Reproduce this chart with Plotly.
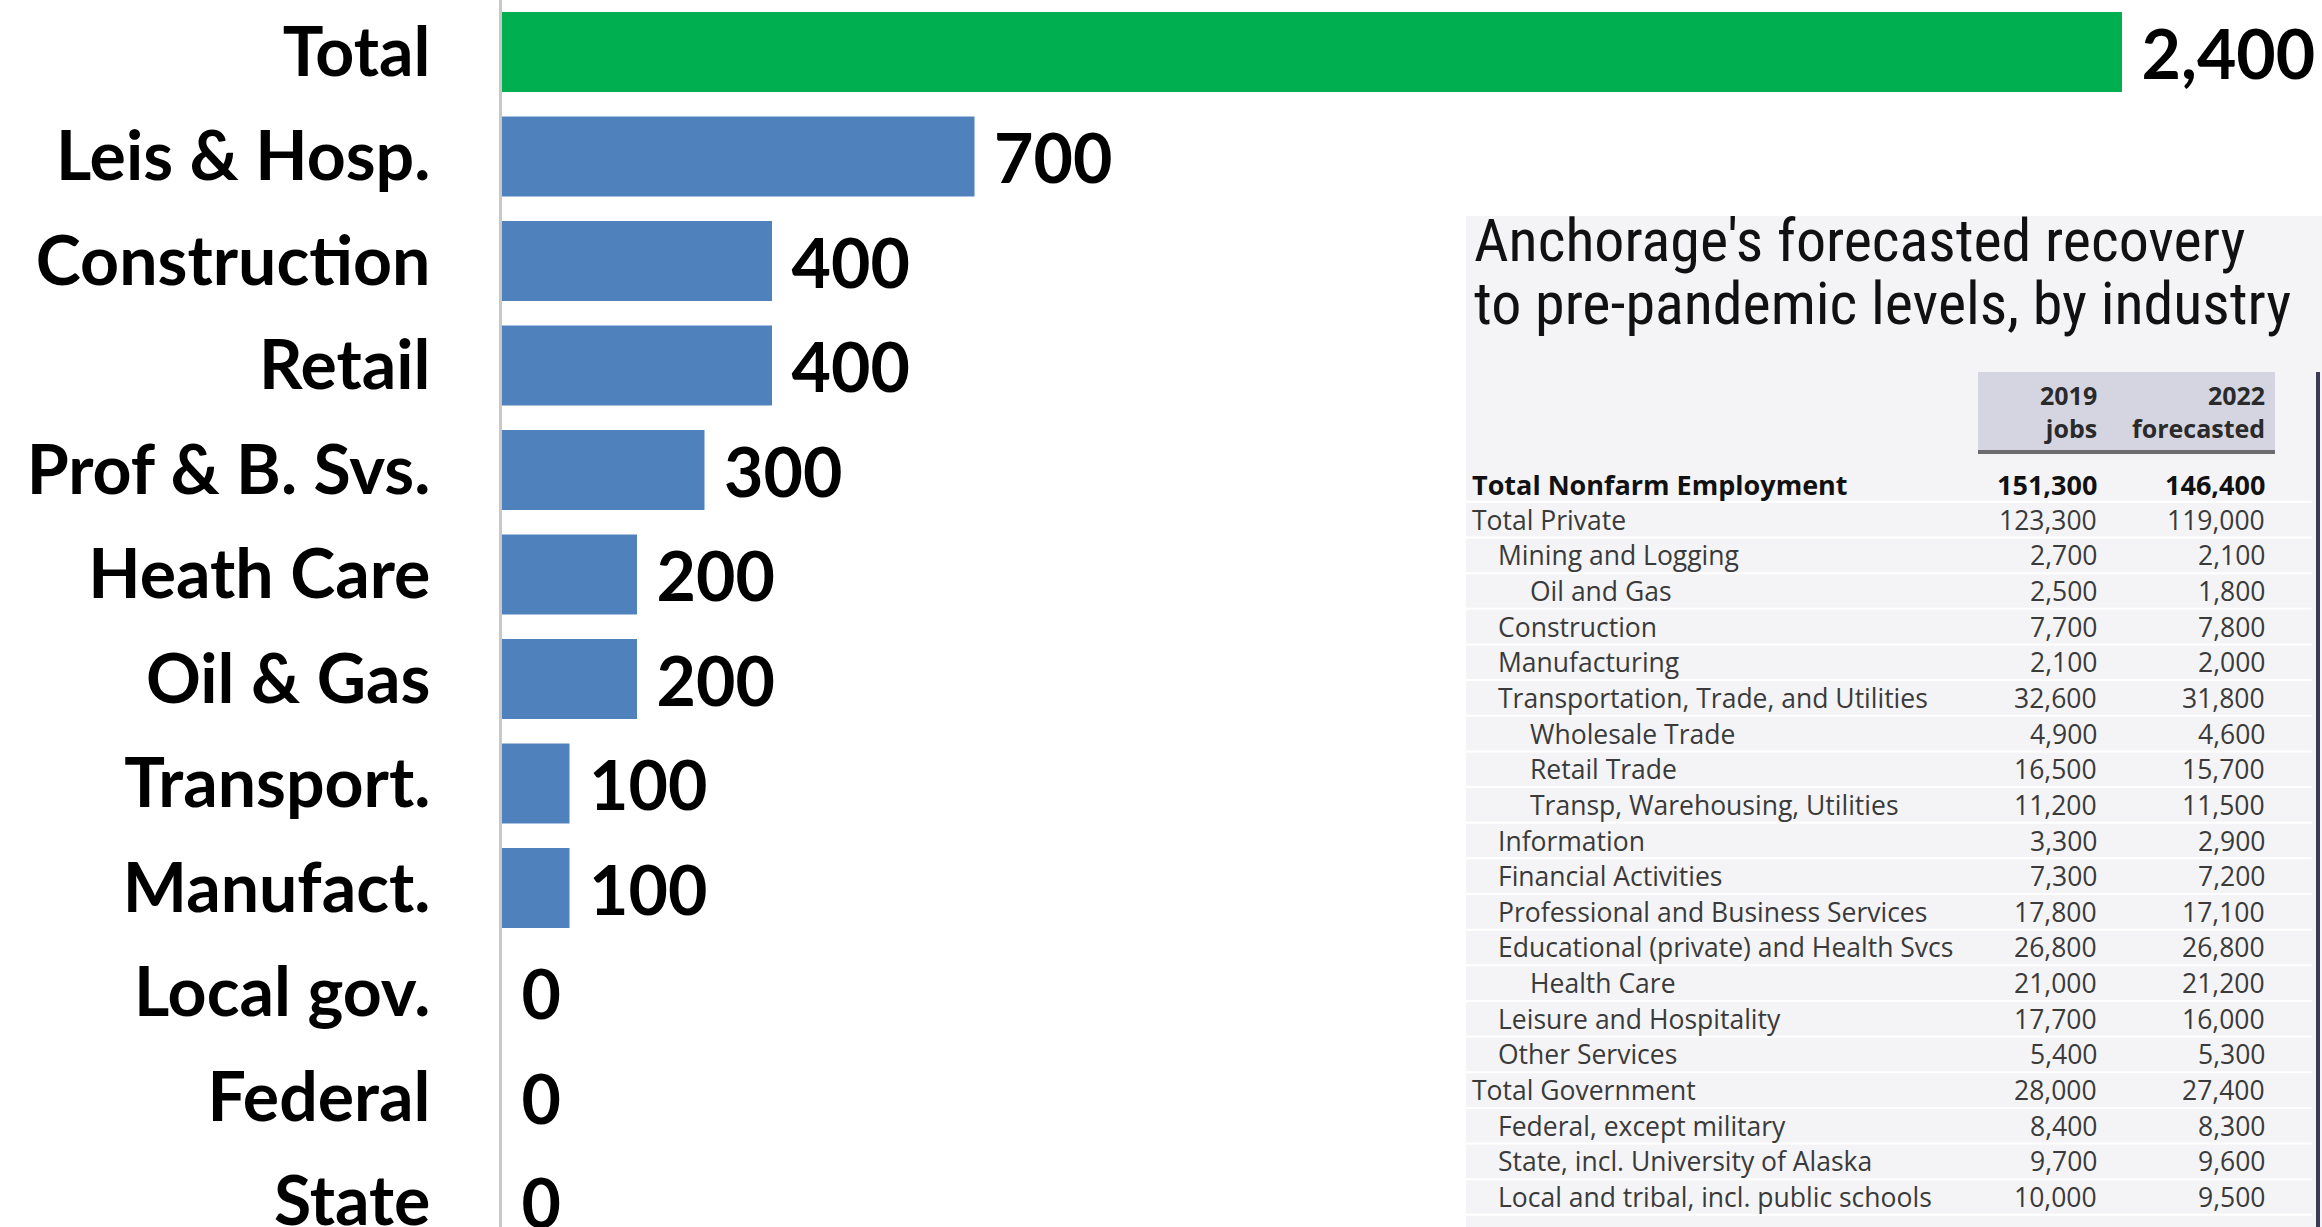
import plotly.graph_objects as go

# bar chart data
industries = ["Total", "Leis & Hosp.", "Construction", "Retail", "Prof & B. Svs.",
              "Heath Care", "Oil & Gas", "Transport.", "Manufact.",
              "Local gov.", "Federal", "State"]
jobs_gap = [2400, 700, 400, 400, 300, 200, 200, 100, 100, 0, 0, 0]
bar_colors = ["#00b050"] + ["#4f81bd"] * 11

# inset table data
title_lines = ["Anchorage's forecasted recovery", "to pre-pandemic levels, by industry"]
table_headers = ["2019<br>jobs", "2022<br>forecasted"]
row_names = ["Total Nonfarm Employment", "Total Private", "Mining and Logging", "Oil and Gas",
             "Construction", "Manufacturing", "Transportation, Trade, and Utilities",
             "Wholesale Trade", "Retail Trade", "Transp, Warehousing, Utilities",
             "Information", "Financial Activities", "Professional and Business Services",
             "Educational (private) and Health Svcs", "Health Care", "Leisure and Hospitality",
             "Other Services", "Total Government", "Federal, except military",
             "State, incl. University of Alaska", "Local and tribal, incl. public schools"]
row_levels = [0, 0, 1, 2, 1, 1, 1, 2, 2, 2, 1, 1, 1, 1, 2, 1, 1, 0, 1, 1, 1]
jobs_2019 = ["151,300", "123,300", "2,700", "2,500", "7,700", "2,100", "32,600", "4,900",
             "16,500", "11,200", "3,300", "7,300", "17,800", "26,800", "21,000", "17,700",
             "5,400", "28,000", "8,400", "9,700", "10,000"]
jobs_2022 = ["146,400", "119,000", "2,100", "1,800", "7,800", "2,000", "31,800", "4,600",
             "15,700", "11,500", "2,900", "7,200", "17,100", "26,800", "21,200", "16,000",
             "5,300", "27,400", "8,300", "9,600", "9,500"]

W, H = 2322, 1227
L = 502


def px(x):
    return (x - L) / (W - L)


def py(y):
    return 1 - y / H


fig = go.Figure(go.Bar(
    x=jobs_gap, y=industries, orientation="h",
    marker=dict(color=bar_colors, line=dict(width=0)),
    text=[" " + f"{v:,}" for v in jobs_gap],
    textposition="outside", cliponaxis=False, constraintext="none",
    textfont=dict(family="Lato", size=68, color="black", weight="bold"),
))

shapes = []
annotations = []

# inset background
shapes.append(dict(type="rect", xref="paper", yref="paper", x0=px(1466), x1=px(W),
                   y0=py(H), y1=py(216), fillcolor="#f4f4f6", line=dict(width=0), layer="above"))
row_h = 35.65
row0 = 484
for i in range(len(row_names)):
    yb = row0 + i * row_h + row_h / 2
    shapes.append(dict(type="line", xref="paper", yref="paper", x0=px(1466), x1=px(2312),
                       y0=py(yb), y1=py(yb), line=dict(color="white", width=2), layer="above"))
# header box
shapes.append(dict(type="rect", xref="paper", yref="paper", x0=px(1978), x1=px(2275),
                   y0=py(450), y1=py(372), fillcolor="#d5d5e1", line=dict(width=0), layer="above"))
shapes.append(dict(type="line", xref="paper", yref="paper", x0=px(1978), x1=px(2275),
                   y0=py(452), y1=py(452), line=dict(color="#6b6b70", width=4), layer="above"))
# right edge line
shapes.append(dict(type="line", xref="paper", yref="paper", x0=px(2318), x1=px(2318),
                   y0=py(372), y1=py(H), line=dict(color="#3b3b55", width=4), layer="above"))

for k, line in enumerate(title_lines):
    annotations.append(dict(text=line, xref="paper", yref="paper", x=px(1472), y=py(278 + k * 63),
                            xanchor="left", yanchor="bottom", showarrow=False,
                            font=dict(family="Roboto Condensed, Liberation Sans Narrow, Roboto",
                                      size=60, color="#111111")))
for hx, txt in zip([2099, 2267], table_headers):
    annotations.append(dict(text=txt, xref="paper", yref="paper", x=px(hx), y=py(411),
                            xanchor="right", yanchor="middle", align="right", showarrow=False,
                            font=dict(family="Open Sans", size=25, color="#2a2a2a", weight="bold")))

indent = [1470, 1496, 1528]
for i, (name, lvl, a, b) in enumerate(zip(row_names, row_levels, jobs_2019, jobs_2022)):
    yc = py(row0 + i * row_h)
    bold = i == 0
    f = dict(family="Open Sans", size=27 if bold else 26.5,
             color="#111111" if bold else "#3a3a3a", weight="bold" if bold else "normal")
    annotations.append(dict(text=name, xref="paper", yref="paper", x=px(indent[lvl]), y=yc,
                            xanchor="left", yanchor="middle", showarrow=False, font=f))
    annotations.append(dict(text=a, xref="paper", yref="paper", x=px(2099), y=yc,
                            xanchor="right", yanchor="middle", showarrow=False, font=f))
    annotations.append(dict(text=b, xref="paper", yref="paper", x=px(2267), y=yc,
                            xanchor="right", yanchor="middle", showarrow=False, font=f))

bar_step = 104.5
top = -52 / bar_step
fig.update_layout(
    width=W, height=H,
    margin=dict(l=L, r=0, t=0, b=0, pad=0, autoexpand=False),
    paper_bgcolor="white", plot_bgcolor="white",
    showlegend=False,
    bargap=0.235,
    xaxis=dict(range=[0, (W - L) / 0.675], side="top", showline=True, linecolor="#a6a6a6",
               linewidth=2, showgrid=False, zeroline=False, showticklabels=False, ticks="",
               automargin=False),
    yaxis=dict(categoryorder="array", categoryarray=industries,
               range=[top + H / bar_step, top], showline=True, linecolor="#c8c8c8", linewidth=3,
               showgrid=False, zeroline=False, ticks="", ticklabelstandoff=55, automargin=False,
               tickfont=dict(family="Lato", size=68, color="black", weight="bold")),
    shapes=shapes,
    annotations=annotations,
)

fig.write_html("out.html", config=dict(displayModeBar=False),
               post_script="document.body.style.margin='0';document.body.style.overflow='hidden';")
